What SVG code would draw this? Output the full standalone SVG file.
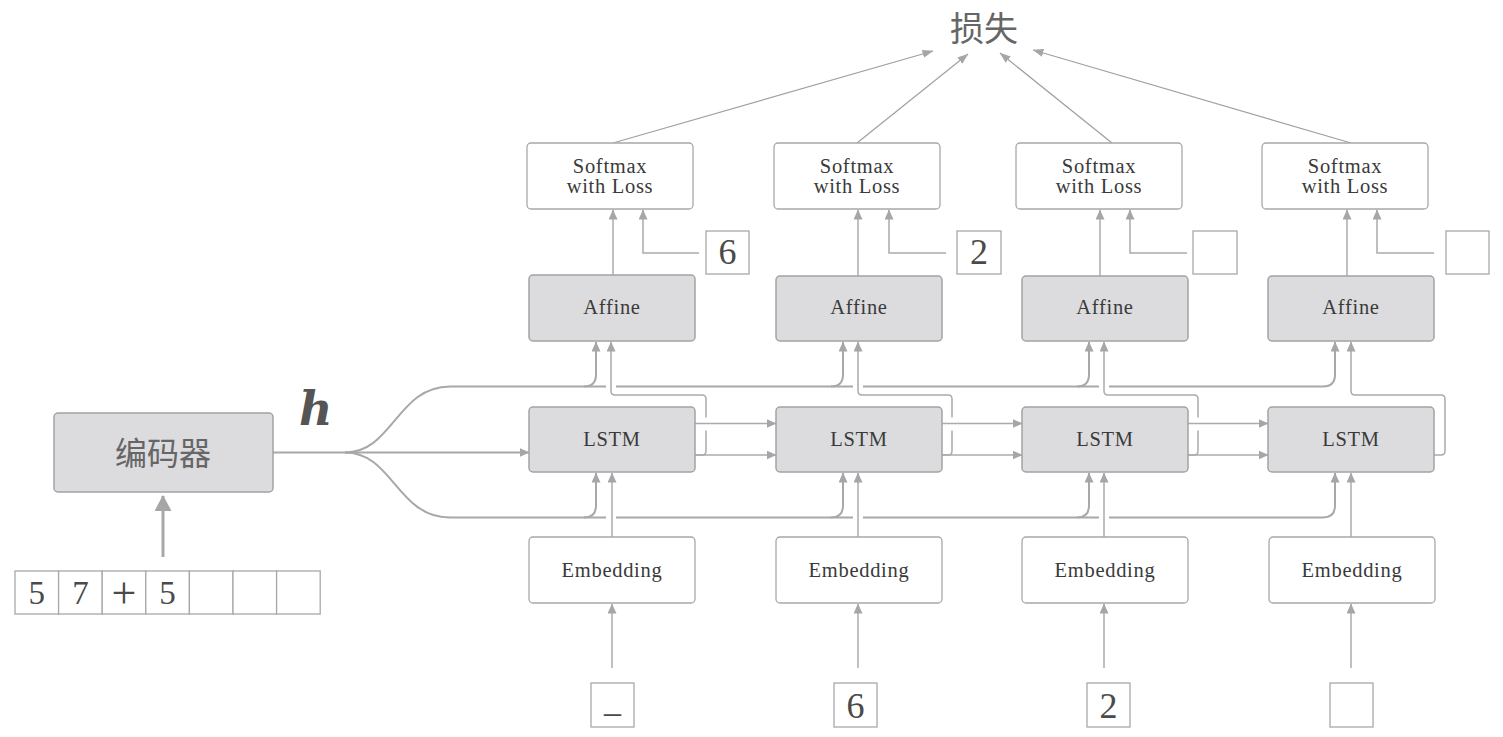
<svg xmlns="http://www.w3.org/2000/svg" width="1503" height="737" viewBox="0 0 1503 737">
<defs>
<style>
.gbox{fill:#dcdcde;stroke:#a3a3a5;stroke-width:1.5}
.wbox{fill:#ffffff;stroke:#a8a8a8;stroke-width:1.3}
.sq{fill:#ffffff;stroke:#a8a8a8;stroke-width:1.3}
.lbl{font-family:"Liberation Serif","DejaVu Serif",serif;font-size:20.5px;letter-spacing:0.7px;fill:#3a3a3a;text-anchor:middle}
.dig{font-family:"Liberation Serif","DejaVu Serif",serif;font-size:36px;fill:#4a4a4a;text-anchor:middle}
.cjk{font-family:"Noto Sans CJK SC","Noto Sans",sans-serif;fill:#666666;text-anchor:middle}
.ln{fill:none;stroke:#ababab;stroke-width:1.5}
.hl{fill:none;stroke:#a8a8a8;stroke-width:2}
.thin{fill:none;stroke:#a0a0a0;stroke-width:1.2}
.halo{fill:none;stroke:#ffffff}
</style>
<marker id="ah" markerUnits="userSpaceOnUse" markerWidth="10" markerHeight="9" viewBox="0 0 10 9" refX="9.5" refY="4.5" orient="auto">
<path d="M0,0 L10,4.5 L0,9 z" fill="#a6a6a6"/>
</marker>
<marker id="ahs" markerUnits="userSpaceOnUse" markerWidth="11" markerHeight="8" viewBox="0 0 11 8" refX="10.5" refY="4" orient="auto">
<path d="M0,0 L11,4 L0,8 z" fill="#a6a6a6"/>
</marker>
<marker id="ahb" markerUnits="userSpaceOnUse" markerWidth="16" markerHeight="17" viewBox="0 0 16 17" refX="15" refY="8.5" orient="auto">
<path d="M0,0 L16,8.5 L0,17 z" fill="#a6a6a6"/>
</marker>
</defs>
<rect width="1503" height="737" fill="#ffffff"/>

<g id="connectors">
<path class="thin" d="M613,143 L933,51" marker-end="url(#ahs)"/>
<path class="thin" d="M857,143 L968,54" marker-end="url(#ahs)"/>
<path class="thin" d="M1112,143 L1000,53" marker-end="url(#ahs)"/>
<path class="thin" d="M1351,143 L1033,50" marker-end="url(#ahs)"/>
<path d="M163,557 V496" fill="none" stroke="#a8a8a8" stroke-width="3" marker-end="url(#ahb)"/>
<path class="hl" d="M273,452.5 H529" marker-end="url(#ah)"/>
<path class="hl" d="M345,452.5 C393,452.5 397,386.5 450,386.5 H1323 Q1335,386.5 1335,374.5 V342" marker-end="url(#ah)"/>
<path class="hl" d="M345,452.5 C393,452.5 397,517.5 450,517.5 H1323 Q1335,517.5 1335,505.5 V473" marker-end="url(#ah)"/>
<path class="hl" d="M584,386.5 Q596,386.5 596,374.5 V342" marker-end="url(#ah)"/>
<path class="hl" d="M831,386.5 Q843,386.5 843,374.5 V342" marker-end="url(#ah)"/>
<path class="hl" d="M1077,386.5 Q1089,386.5 1089,374.5 V342" marker-end="url(#ah)"/>
<path class="hl" d="M584,517.5 Q596,517.5 596,505.5 V473" marker-end="url(#ah)"/>
<path class="hl" d="M831,517.5 Q843,517.5 843,505.5 V473" marker-end="url(#ah)"/>
<path class="hl" d="M1077,517.5 Q1089,517.5 1089,505.5 V473" marker-end="url(#ah)"/>
<path class="halo" stroke-width="10" d="M611,381 V392 M611,512 V523 M858,381 V392 M858,512 V523 M1104,381 V392 M1104,512 V523"/>
<path class="ln" d="M612,537 V473" marker-end="url(#ah)"/>
<path class="ln" d="M858,537 V473" marker-end="url(#ah)"/>
<path class="ln" d="M1104,537 V473" marker-end="url(#ah)"/>
<path class="ln" d="M1351,537 V473" marker-end="url(#ah)"/>
<path class="ln" d="M695,455 H702 Q706,455 706,451 V399 Q706,395 702,395 H615 Q611,395 611,391 V342" marker-end="url(#ah)"/>
<path class="ln" d="M942,455 H948 Q952,455 952,451 V399 Q952,395 948,395 H862 Q858,395 858,391 V342" marker-end="url(#ah)"/>
<path class="ln" d="M1188,455 H1194 Q1198,455 1198,451 V399 Q1198,395 1194,395 H1108 Q1104,395 1104,391 V342" marker-end="url(#ah)"/>
<path class="ln" d="M1434,455 H1441 Q1445,455 1445,451 V399 Q1445,395 1441,395 H1355 Q1351,395 1351,391 V342" marker-end="url(#ah)"/>
<path class="halo" stroke-width="13" d="M700,424 H712 M946,424 H958 M1192,424 H1204"/>
<path class="ln" d="M695,423.5 H776" marker-end="url(#ah)"/>
<path class="ln" d="M695,455 H776" marker-end="url(#ah)"/>
<path class="ln" d="M942,423.5 H1022" marker-end="url(#ah)"/>
<path class="ln" d="M942,455 H1022" marker-end="url(#ah)"/>
<path class="ln" d="M1188,423.5 H1268" marker-end="url(#ah)"/>
<path class="ln" d="M1188,455 H1268" marker-end="url(#ah)"/>
<path class="ln" d="M613,275 V210" marker-end="url(#ah)"/>
<path class="ln" d="M858,276 V210" marker-end="url(#ah)"/>
<path class="ln" d="M1100,276 V210" marker-end="url(#ah)"/>
<path class="ln" d="M1347,276 V210" marker-end="url(#ah)"/>
<path class="ln" d="M699,253 H643 V210" marker-end="url(#ah)"/>
<path class="ln" d="M946,253 H889 V210" marker-end="url(#ah)"/>
<path class="ln" d="M1187,253 H1130 V210" marker-end="url(#ah)"/>
<path class="ln" d="M1434,253 H1377 V210" marker-end="url(#ah)"/>
<path class="ln" d="M612,668 V604" marker-end="url(#ah)"/>
<path class="ln" d="M858,668 V604" marker-end="url(#ah)"/>
<path class="ln" d="M1104,668 V604" marker-end="url(#ah)"/>
<path class="ln" d="M1351,668 V604" marker-end="url(#ah)"/>
</g>

<g id="loss"><text class="cjk" x="984" y="41" font-size="34">损失</text></g>

<g id="encoder">
<rect class="gbox" x="54" y="413" width="219" height="79" rx="4"/>
<text class="cjk" x="163" y="465" font-size="32">编码器</text>
</g>
<g id="h-label"><text x="299" y="425" font-family="'DejaVu Serif','Liberation Serif',serif" font-size="46" font-weight="bold" font-style="italic" fill="#555555">h</text></g>

<g id="input-seq">
<rect class="sq" x="15" y="571" width="43.6" height="43"/>
<rect class="sq" x="58.6" y="571" width="43.6" height="43"/>
<rect class="sq" x="102.2" y="571" width="43.6" height="43"/>
<rect class="sq" x="145.8" y="571" width="43.6" height="43"/>
<rect class="sq" x="189.4" y="571" width="43.6" height="43"/>
<rect class="sq" x="233" y="571" width="43.6" height="43"/>
<rect class="sq" x="276.6" y="571" width="43.6" height="43"/>
<text class="dig" x="36.8" y="604" style="font-size:33px">5</text>
<text class="dig" x="80.4" y="604" style="font-size:33px">7</text>
<text class="dig" x="124" y="608" style="font-size:44px">+</text>
<text class="dig" x="167.6" y="604" style="font-size:33px">5</text>
</g>

<g id="softmax1"><rect class="wbox" x="527" y="143" width="166" height="66" rx="4"/><text class="lbl" x="610" y="173">Softmax</text><text class="lbl" x="610" y="193">with Loss</text></g>
<g id="softmax2"><rect class="wbox" x="774" y="143" width="166" height="66" rx="4"/><text class="lbl" x="857" y="173">Softmax</text><text class="lbl" x="857" y="193">with Loss</text></g>
<g id="softmax3"><rect class="wbox" x="1016" y="143" width="166" height="66" rx="4"/><text class="lbl" x="1099" y="173">Softmax</text><text class="lbl" x="1099" y="193">with Loss</text></g>
<g id="softmax4"><rect class="wbox" x="1262" y="143" width="166" height="66" rx="4"/><text class="lbl" x="1345" y="173">Softmax</text><text class="lbl" x="1345" y="193">with Loss</text></g>

<g id="target1"><rect class="sq" x="706" y="231" width="43" height="43"/><text class="dig" x="727.5" y="264">6</text></g>
<g id="target2"><rect class="sq" x="957" y="231" width="44" height="43"/><text class="dig" x="979" y="264">2</text></g>
<g id="target3"><rect class="sq" x="1193" y="231" width="44" height="43"/></g>
<g id="target4"><rect class="sq" x="1446" y="231" width="43" height="43"/></g>

<g id="affine1"><rect class="gbox" x="529" y="275" width="166" height="66" rx="4"/><text class="lbl" x="612" y="314">Affine</text></g>
<g id="affine2"><rect class="gbox" x="776" y="276" width="166" height="65" rx="4"/><text class="lbl" x="859" y="314">Affine</text></g>
<g id="affine3"><rect class="gbox" x="1022" y="276" width="166" height="65" rx="4"/><text class="lbl" x="1105" y="314">Affine</text></g>
<g id="affine4"><rect class="gbox" x="1268" y="276" width="166" height="65" rx="4"/><text class="lbl" x="1351" y="314">Affine</text></g>

<g id="lstm1"><rect class="gbox" x="529" y="407" width="166" height="65" rx="4"/><text class="lbl" x="612" y="446">LSTM</text></g>
<g id="lstm2"><rect class="gbox" x="776" y="407" width="166" height="65" rx="4"/><text class="lbl" x="859" y="446">LSTM</text></g>
<g id="lstm3"><rect class="gbox" x="1022" y="407" width="166" height="65" rx="4"/><text class="lbl" x="1105" y="446">LSTM</text></g>
<g id="lstm4"><rect class="gbox" x="1268" y="407" width="166" height="65" rx="4"/><text class="lbl" x="1351" y="446">LSTM</text></g>

<g id="embed1"><rect class="wbox" x="529" y="537" width="166" height="66" rx="4"/><text class="lbl" x="612" y="577">Embedding</text></g>
<g id="embed2"><rect class="wbox" x="776" y="537" width="166" height="66" rx="4"/><text class="lbl" x="859" y="577">Embedding</text></g>
<g id="embed3"><rect class="wbox" x="1022" y="537" width="166" height="66" rx="4"/><text class="lbl" x="1105" y="577">Embedding</text></g>
<g id="embed4"><rect class="wbox" x="1269" y="537" width="166" height="66" rx="4"/><text class="lbl" x="1352" y="577">Embedding</text></g>

<g id="in1"><rect class="sq" x="591" y="683" width="43" height="44"/><text class="dig" x="612.5" y="712" style="font-size:34px">_</text></g>
<g id="in2"><rect class="sq" x="834" y="683" width="43" height="44"/><text class="dig" x="855.5" y="718">6</text></g>
<g id="in3"><rect class="sq" x="1087" y="683" width="43" height="44"/><text class="dig" x="1108.5" y="718">2</text></g>
<g id="in4"><rect class="sq" x="1330" y="683" width="43" height="44"/></g>
</svg>
